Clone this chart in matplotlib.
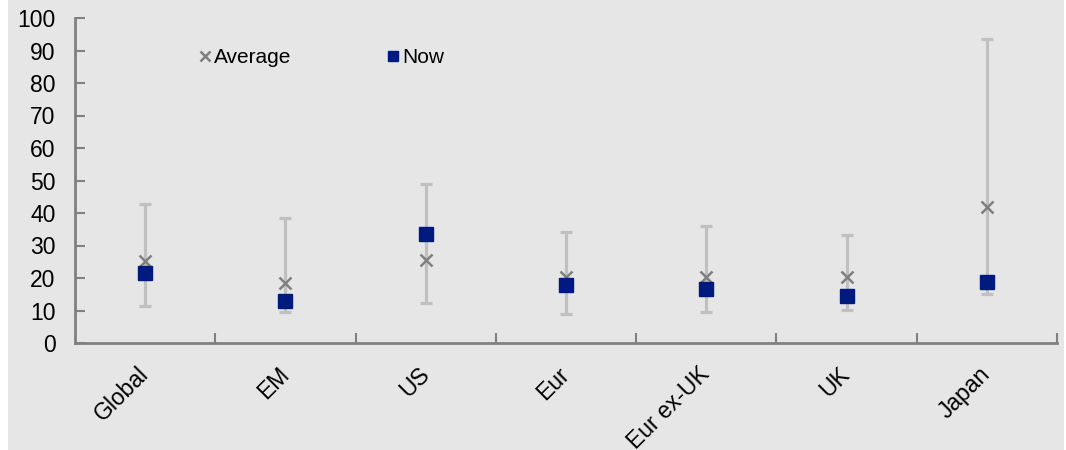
import numpy as np
import matplotlib.pyplot as plt
from matplotlib.patches import Rectangle

# Data
regions = ['Global', 'EM', 'US', 'Eur', 'Eur ex-UK', 'UK', 'Japan']
low = [11.4, 9.5, 12.2, 8.9, 9.4, 10.3, 15.1]
high = [42.8, 38.4, 48.9, 34.1, 36.0, 33.1, 93.6]
average = [25.2, 18.4, 25.5, 20.3, 20.2, 20.2, 41.7]
now = [21.6, 13.0, 33.5, 17.8, 16.6, 14.6, 18.9]
yticks = np.arange(0, 101, 10)

bg = '#e6e6e6'
axis_col = '#808080'

plt.rcParams['font.family'] = ['Liberation Sans', 'DejaVu Sans']

fig = plt.figure(figsize=(10.66, 4.5), dpi=100, facecolor='white')
# gray panel behind the chart (white strip on the left edge)
fig.patches.append(Rectangle((8 / 1066, 0), (1064 - 8) / 1066, 1,
                             transform=fig.transFigure, facecolor=bg,
                             edgecolor='none', zorder=-5))
ax = fig.add_axes([75 / 1066, 1 - 343 / 450, (1057 - 75) / 1066, (343 - 18) / 450])
ax.set_facecolor(bg)

x = np.arange(len(regions))
avg = np.array(average)
yerr = [avg - np.array(low), np.array(high) - avg]

# min-max range
ax.errorbar(x, avg, yerr=yerr, fmt='none', ecolor='#c0c0c0', elinewidth=2.3,
            capsize=4.5, capthick=2.3, zorder=2)
# average and current values
ax.plot(x, average, linestyle='none', marker='x', markersize=9, mew=1.8,
        color=axis_col, zorder=3, label='Average')
ax.plot(x, now, linestyle='none', marker='s', markersize=10,
        color='#001a80', zorder=4, label='Now')

ax.set_xlim(-0.5, 6.5)
ax.set_ylim(0, 100)
ax.set_yticks(yticks)
ax.tick_params(axis='y', direction='in', length=7, width=1.5, color=axis_col,
               labelsize=16.5, pad=14)

# category boundaries as major ticks, labels on minor ticks
ax.set_xticks(np.arange(0.5, 7, 1))
ax.set_xticklabels([])
ax.set_xticks(x, minor=True)
ax.set_xticklabels(regions, minor=True, rotation=45, ha='right', va='center',
                   rotation_mode='anchor', fontsize=16.5)
ax.tick_params(axis='x', which='major', direction='in', length=7, width=1.5,
               color=axis_col)
ax.tick_params(axis='x', which='minor', length=0, pad=20)

for side in ['top', 'right']:
    ax.spines[side].set_visible(False)
for side in ['left', 'bottom']:
    ax.spines[side].set_color(axis_col)
    ax.spines[side].set_linewidth(2)

ax.legend(loc='upper left', bbox_to_anchor=(0.108, 0.965), ncol=2, frameon=False,
          fontsize=15, handlelength=0.5, handletextpad=0.2, columnspacing=4.6,
          markerscale=0.75)

plt.savefig('out.png', dpi=100, facecolor=fig.get_facecolor())
